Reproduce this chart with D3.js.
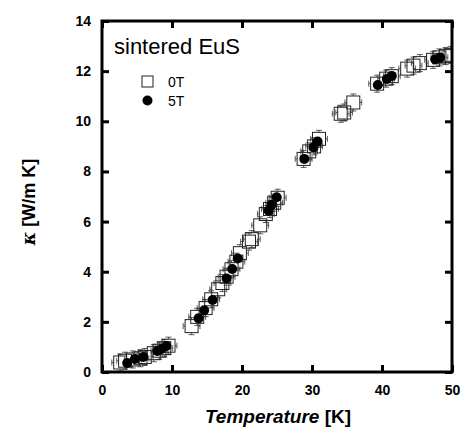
<!DOCTYPE html>
<html>
<head>
<meta charset="utf-8">
<script src="https://cdn.jsdelivr.net/npm/d3@7"></script>
<style>
  body { margin: 0; background: #fff; }
  text { font-family: Arial, "Liberation Sans", sans-serif; }
</style>
</head>
<body>
<script>
// measured thermal conductivity, zero field (open squares)
const temp0T = [2.6, 3.3, 4.4, 5.5, 6.1, 7.4, 8.2, 8.9, 9.5, 12.8, 13.6, 14.8, 15.6, 16.6, 17.2,
  17.8, 18.5, 19.2, 19.7, 21.0, 21.4, 22.6, 23.4, 24.0, 24.6, 25.1, 28.8, 29.6, 30.3, 31.0,
  34.1, 34.6, 35.9, 39.3, 40.6, 41.4, 43.6, 44.5, 45.4, 47.3, 48.2, 49.1, 49.8];
const kappa0T = [0.38, 0.45, 0.5, 0.55, 0.6, 0.75, 0.85, 0.95, 1.05, 1.83, 2.2, 2.55, 2.9, 3.3, 3.55,
  3.8, 4.1, 4.4, 4.74, 5.2, 5.3, 5.85, 6.3, 6.5, 6.75, 6.95, 8.5, 8.8, 9.0, 9.3,
  10.3, 10.35, 10.75, 11.5, 11.7, 11.8, 12.1, 12.22, 12.32, 12.45, 12.55, 12.6, 12.65];

// 5 T (filled circles)
const temp5T = [3.6, 4.7, 5.9, 7.9, 8.5, 9.2, 13.8, 14.6, 15.8, 17.8, 18.6, 19.4, 23.8, 24.2, 24.95,
  28.9, 30.2, 30.8, 39.4, 40.7, 41.4, 47.6, 48.3];
const kappa5T = [0.36, 0.52, 0.6, 0.84, 0.92, 1.04, 2.14, 2.46, 2.87, 3.73, 4.11, 4.53, 6.43, 6.66, 6.97,
  8.5, 8.96, 9.19, 11.45, 11.69, 11.81, 12.47, 12.54];

const xTicks = [0, 10, 20, 30, 40, 50];
const yTicks = [0, 2, 4, 6, 8, 10, 12, 14];
const errT = 1.2, errK = 0.34;

const W = 464, H = 432;
const m = { left: 102, right: 12, top: 21, bottom: 60 };
const iw = W - m.left - m.right, ih = H - m.top - m.bottom;

const svg = d3.select("body").append("svg").attr("width", W).attr("height", H);
const g = svg.append("g").attr("transform", `translate(${m.left},${m.top})`);

const x = d3.scaleLinear().domain([0, 50]).range([0, iw]);
const y = d3.scaleLinear().domain([0, 14]).range([ih, 0]);

g.append("clipPath").attr("id", "clip").append("rect").attr("width", iw).attr("height", ih);
const plot = g.append("g").attr("clip-path", "url(#clip)");

const pts0 = temp0T.map((t, i) => ({ t, k: kappa0T[i] }));
const pts5 = temp5T.map((t, i) => ({ t, k: kappa5T[i] }));

// error bars + open squares
const cap = 3, half = 6.5;
const eb = plot.append("g").attr("stroke", "#333").attr("stroke-width", 0.8).attr("fill", "none");
pts0.forEach(d => {
  const cx = x(d.t), cy = y(d.k);
  const x1 = x(d.t - errT), x2 = x(d.t + errT), y1 = y(d.k + errK), y2 = y(d.k - errK);
  eb.append("path").attr("d",
    `M${x1},${cy}H${cx - half}M${cx + half},${cy}H${x2}` +
    `M${x1},${cy - cap}V${cy + cap}M${x2},${cy - cap}V${cy + cap}` +
    `M${cx},${y1}V${cy - half}M${cx},${cy + half}V${y2}` +
    `M${cx - cap},${y1}H${cx + cap}M${cx - cap},${y2}H${cx + cap}`);
});
plot.append("g").selectAll("rect").data(pts0).join("rect")
  .attr("x", d => x(d.t) - half).attr("y", d => y(d.k) - half)
  .attr("width", half * 2).attr("height", half * 2)
  .attr("fill", "none").attr("stroke", "#222").attr("stroke-width", 1);

plot.append("g").selectAll("circle").data(pts5).join("circle")
  .attr("cx", d => x(d.t)).attr("cy", d => y(d.k)).attr("r", 5)
  .attr("fill", "#000");

// axes with inward ticks on all sides
const tickLen = 7;
function styleAxis(sel) {
  sel.select(".domain").remove();
  sel.selectAll(".tick line").attr("stroke", "#000").attr("stroke-width", 3);
  sel.selectAll(".tick text").attr("font-size", 14).attr("font-weight", "bold").attr("fill", "#000");
}
g.append("g").attr("transform", `translate(0,${ih})`)
  .call(d3.axisBottom(x).tickValues(xTicks).tickSizeInner(-tickLen).tickSizeOuter(0).tickPadding(13))
  .call(styleAxis);
g.append("g")
  .call(d3.axisTop(x).tickValues(xTicks).tickSizeInner(-tickLen).tickSizeOuter(0).tickFormat(""))
  .call(styleAxis);
g.append("g")
  .call(d3.axisLeft(y).tickValues(yTicks).tickSizeInner(-tickLen).tickSizeOuter(0).tickPadding(11))
  .call(styleAxis);
g.append("g").attr("transform", `translate(${iw},0)`)
  .call(d3.axisRight(y).tickValues(yTicks).tickSizeInner(-tickLen).tickSizeOuter(0).tickFormat(""))
  .call(styleAxis);

g.append("rect").attr("width", iw).attr("height", ih)
  .attr("fill", "none").attr("stroke", "#000").attr("stroke-width", 3);

// labels
g.append("text").attr("x", 12).attr("y", 33).attr("font-size", 22).text("sintered EuS");

g.append("rect").attr("x", 40).attr("y", 55).attr("width", 11).attr("height", 11)
  .attr("fill", "none").attr("stroke", "#222").attr("stroke-width", 1);
g.append("text").attr("x", 66).attr("y", 66).attr("font-size", 14).text("0T");
g.append("circle").attr("cx", 45.5).attr("cy", 79.5).attr("r", 5).attr("fill", "#000");
g.append("text").attr("x", 66).attr("y", 85).attr("font-size", 14).text("5T");

const xl = svg.append("text").attr("x", 278).attr("y", 423)
  .attr("text-anchor", "middle").attr("font-size", 19).attr("font-weight", "bold");
xl.append("tspan").attr("font-style", "italic").text("Temperature");
xl.append("tspan").text(" [K]");

const yl = svg.append("text").attr("transform", `translate(35,202) rotate(-90)`)
  .attr("text-anchor", "middle").attr("font-size", 18).attr("font-weight", "bold");
yl.append("tspan").attr("font-style", "italic").attr("font-family", "'DejaVu Serif', serif").text("κ");
yl.append("tspan").text(" [W/m K]");
</script>
</body>
</html>
